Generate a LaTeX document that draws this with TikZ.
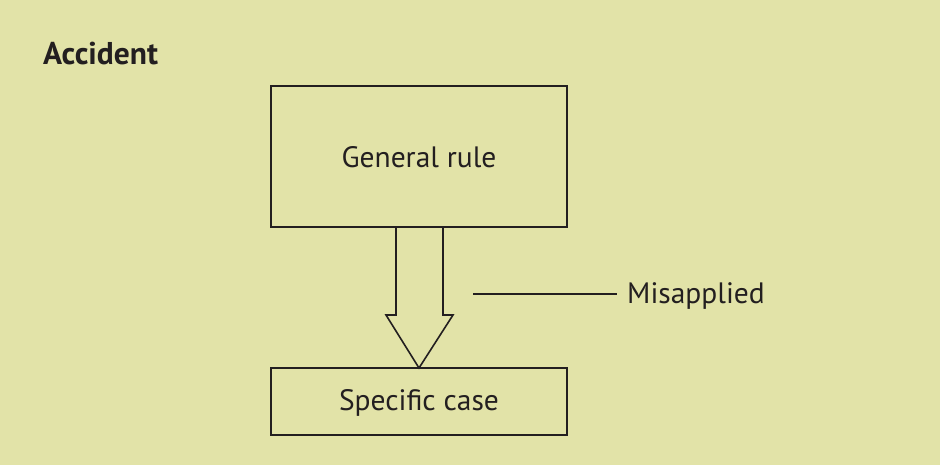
\documentclass[tikz,border=0pt]{standalone}
\usepackage{fontspec}
\setmainfont{PT Sans}
\definecolor{bg}{RGB}{226,227,168}
\definecolor{ink}{RGB}{35,31,32}
\begin{document}
\begin{tikzpicture}[x=1pt,y=-1pt,
  box/.style={draw=ink,line width=1.6pt,fill=none},
  lbl/.style={text=ink,font=\fontsize{29.5}{32}\selectfont,inner sep=0pt}]
\fill[bg] (0,0) rectangle (940,465);
\useasboundingbox (0,0) rectangle (940,465);
\node[lbl,anchor=west,font=\fontsize{31.5}{34}\selectfont\bfseries] (title) at (43,54) {Accident};
\draw[box] (271,86) rectangle (567,227);
\node[lbl] (gen) at (419,157) {General rule};
\draw[box] (271,368) rectangle (567,435);
\node[lbl] (spec) at (419,403) {Specific case};
\draw[draw=ink,line width=1.6pt,line join=miter]
  (396,227) -- (396,315) -- (386,315) -- (419,368) -- (453,315) -- (443,315) -- (443,227);
\coordinate (ls) at (473,294);
\node[lbl,anchor=west] (mis) at (627,296) {Misapplied};
\draw[draw=ink,line width=1.6pt] (ls) -- (617,294);
\end{tikzpicture}
\end{document}
